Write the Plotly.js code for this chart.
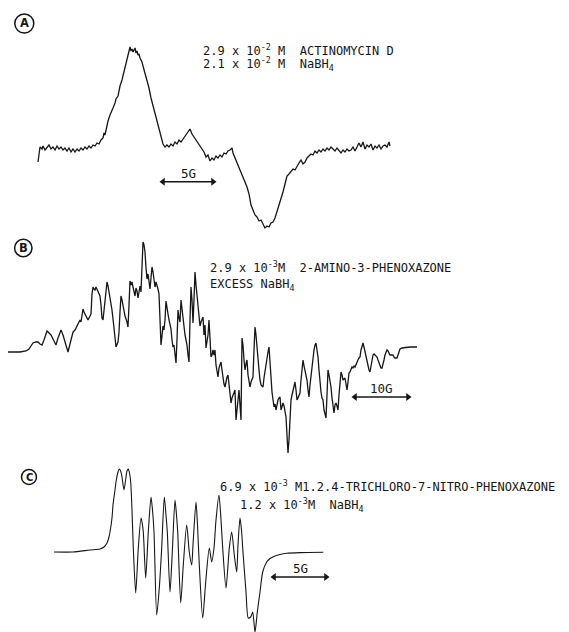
<!DOCTYPE html>
<html>
<head>
<meta charset="utf-8">
<script src="https://cdn.plot.ly/plotly-3.0.1.min.js"></script>
<style>html,body{margin:0;padding:0;background:#fff;}#chart{width:569px;height:632px;}</style>
</head>
<body>
<div id="chart"></div>
<script>
// Spectrum A: [field position, signal relative to baseline]
const spectrumA = [
[38,-12],[39,0],[40,3],[42,1],[43,4],[45,0],[47,2],[49,5],[51,1],[53,3],[55,0],[57,4],[59,1],[61,3],[63,0],[65,2],[67,-1],[69,2],[71,-2],[73,1],[75,-2],[77,1],[79,-1],[81,2],[83,0],[85,3],[87,1],[89,4],[91,2],[93,5],[95,4],[97,7],[99,6],[101,10],[103,12],[104,17],[105,15],[107,26],[108,29],[110,35],[111,38],[113,42],[115,47],[116,51],[118,54],[119,59],[120,64],[122,70],[123,74],[124,80],[126,86],[127,91],[128,96],[129,100],[130,103],[131,99],[132,101],[133,98],[134,100],[135,102],[136,97],[137,99],[138,95],[139,96],[140,92],[142,88],[143,84],[145,77],[147,69],[149,62],[151,52],[153,44],[155,36],[157,28],[159,19],[161,11],[163,6],[165,3],[167,5],[169,3],[171,6],[173,4],[175,8],[177,6],[179,10],[181,8],[183,11],[185,13],[187,16],[189,19],[190,21],[192,16],[194,13],[196,10],[198,7],[200,4],[202,1],[204,-2],[206,-7],[208,-5],[210,-11],[212,-8],[214,-10],[216,-6],[218,-8],[220,-5],[222,-7],[224,-3],[226,-4],[228,-1],[230,0],[232,2],[233,-3],[235,-8],[237,-11],[239,-16],[241,-21],[243,-26],[245,-31],[247,-37],[249,-44],[251,-55],[253,-60],[255,-65],[257,-67],[259,-71],[261,-70],[263,-74],[265,-78],[267,-76],[269,-77],[271,-73],[273,-72],[275,-68],[277,-62],[279,-55],[281,-48],[283,-42],[285,-34],[287,-26],[289,-24],[291,-22],[293,-19],[295,-20],[297,-16],[299,-13],[301,-10],[303,-14],[305,-12],[307,-8],[309,-6],[311,-4],[313,-5],[315,-1],[317,-3],[319,0],[321,-2],[323,1],[325,-1],[327,2],[329,0],[331,3],[333,1],[335,-1],[337,2],[339,0],[341,-3],[343,0],[345,-2],[347,1],[349,-1],[351,0],[353,3],[355,-1],[357,4],[359,7],[361,3],[363,8],[365,1],[367,5],[369,3],[371,6],[373,0],[375,4],[377,2],[379,5],[381,1],[383,4],[385,5],[387,3],[389,8],[390,4]
];
// Spectrum B
const spectrumB = [
[8,-2],[14,-2],[20,-2],[26,-1],[29,1],[31,4],[33,7],[36,8],[38,8],[40,6],[42,5],[44,10],[46,17],[47,19],[49,17],[51,15],[53,11],[55,7],[56,5],[58,12],[60,19],[61,20],[63,15],[65,7],[67,1],[68,-2],[70,6],[72,14],[73,18],[75,20],[77,24],[78,27],[80,30],[81,28],[83,41],[84,38],[86,34],[88,30],[89,32],[91,36],[92,56],[93,63],[94,61],[95,60],[96,63],[97,61],[98,58],[100,54],[101,45],[102,32],[103,30],[105,50],[107,68],[108,64],[110,52],[112,40],[114,22],[116,3],[118,8],[119,18],[120,38],[121,54],[122,50],[124,40],[125,34],[127,28],[128,23],[129,45],[130,69],[131,65],[132,68],[133,63],[134,58],[135,54],[136,62],[137,59],[138,52],[139,58],[140,64],[141,58],[142,80],[143,108],[144,105],[145,98],[146,82],[147,71],[148,76],[149,68],[150,61],[151,72],[152,83],[153,78],[154,67],[155,63],[156,68],[157,65],[158,61],[159,56],[160,32],[161,5],[162,14],[163,24],[164,20],[165,30],[166,49],[167,44],[168,36],[169,30],[170,25],[171,21],[172,10],[173,3],[174,5],[175,-5],[176,-13],[177,10],[178,40],[179,32],[180,28],[181,50],[182,40],[183,30],[184,22],[185,15],[186,10],[187,5],[188,-5],[189,-12],[190,30],[191,63],[192,50],[193,27],[194,50],[195,78],[196,65],[197,55],[198,45],[199,38],[200,24],[201,28],[202,32],[203,33],[204,15],[205,25],[206,2],[207,10],[208,15],[209,30],[210,10],[211,-7],[212,-5],[213,0],[214,-5],[215,0],[216,-15],[217,-22],[218,-27],[219,-18],[220,-15],[221,-12],[222,-20],[223,-30],[224,-34],[225,-37],[226,-30],[227,-27],[228,-25],[229,-35],[230,-45],[231,-53],[232,-48],[233,-45],[235,-40],[236,-70],[237,-58],[238,-45],[239,-40],[240,-55],[241,-70],[242,12],[243,5],[244,-10],[245,-20],[246,-14],[247,-10],[248,-25],[249,-34],[250,-37],[251,-32],[252,-28],[253,-27],[254,0],[255,23],[256,15],[257,0],[258,-7],[259,-20],[260,-30],[261,-35],[262,-36],[263,-37],[264,-28],[265,-20],[266,-17],[267,-10],[268,-2],[269,3],[270,-15],[271,-27],[272,-42],[274,-57],[275,-54],[276,-60],[277,-52],[278,-50],[279,-48],[280,-47],[281,-60],[282,-55],[283,-53],[284,-56],[285,-62],[286,-67],[287,-85],[288,-103],[289,-90],[290,-65],[291,-50],[292,-45],[293,-40],[294,-35],[295,-32],[296,-40],[297,-50],[298,-48],[299,-45],[300,-43],[301,-30],[302,-20],[303,-10],[304,-16],[305,-20],[306,-24],[307,-30],[308,-40],[309,-47],[310,-35],[311,-25],[312,-17],[313,-8],[314,0],[315,5],[316,7],[317,0],[318,-7],[319,-20],[320,-33],[321,-42],[322,-48],[323,-50],[324,-60],[325,-65],[326,-68],[327,-45],[328,-20],[329,-25],[330,-30],[331,-37],[332,-48],[333,-57],[334,-63],[335,-55],[336,-53],[337,-56],[338,-60],[339,-45],[340,-33],[341,-22],[342,-25],[343,-30],[345,-28],[346,-35],[347,-40],[348,-32],[349,-23],[350,-22],[351,-20],[352,-17],[353,-18],[354,-16],[355,-17],[356,-14],[357,-13],[358,-10],[359,-8],[360,-7],[361,0],[362,4],[363,7],[364,3],[365,-2],[366,-7],[367,-12],[368,-16],[369,-20],[370,-22],[371,-16],[372,-10],[373,-5],[374,-4],[375,-5],[376,-6],[377,-7],[378,-10],[379,-13],[380,-16],[381,-18],[382,-18],[383,-15],[384,-10],[385,-5],[386,-2],[387,0],[388,-1],[389,-3],[390,-5],[391,-5],[393,-5],[394,-7],[395,-8],[397,-8],[398,-4],[399,-1],[400,1],[402,2],[405,2.5],[410,3],[417,3]
];
// Spectrum C
const spectrumC = [
[54,0],[73,0],[90,2],[100,3],[104,5],[107,9],[109,15],[110,20],[112,34],[113,47],[115,62],[116,70],[118,80],[119.3,83],[121,80],[122,75],[124,62],[126,75],[127,81],[128.3,83],[129.5,79],[130.7,70],[132,42],[133.3,4],[135.7,-41],[138.3,4],[141,34],[142,30],[143.3,20],[145.7,-26],[148.3,20],[151,55],[152.5,42],[154,20],[156.7,-63],[159.3,-36],[161.7,4],[164.3,55],[166,37],[167.3,20],[170,-40],[172.3,0],[175,52],[176.5,37],[177.7,20],[180.7,-51],[183.3,-13],[186.7,27],[189.3,0],[191.7,-13],[193,7],[196,50],[197.5,27],[199.3,-13],[202.7,-66],[205.7,-30],[209.3,4],[211.7,-10],[214,4],[216,32],[219,57],[221,32],[222.7,4],[226,-36],[229.3,4],[231.7,20],[234.3,-3],[236.7,-20],[238,7],[240,34],[241.5,22],[242.7,4],[246,-40],[248.3,-66],[250.7,-65],[252.7,-60],[255,-80],[257.3,-60],[260,-40],[262.7,-20],[266.7,-10],[270,-6.5],[273.3,-4.7],[280,-2.5],[286.7,-1.3],[300,-0.6],[323.3,-0.3]
];
const panelLetters = ['A','B','C'];
const labelsA = ['2.9 x 10<sup>-2</sup> M  ACTINOMYCIN D', '2.1 x 10<sup>-2</sup> M  NaBH<sub>4</sub>'];
const labelsB = ['2.9 x 10<sup>-3</sup>M  2-AMINO-3-PHENOXAZONE', 'EXCESS NaBH<sub>4</sub>'];
const labelsC = ['6.9 x 10<sup>-3</sup> M1.2.4-TRICHLORO-7-NITRO-PHENOXAZONE', '1.2 x 10<sup>-3</sup>M  NaBH<sub>4</sub>'];
// scale bars: field span and vertical level (signal units of own panel)
const scaleLabels = ['5G','10G','5G'];
const scaleStart = [161, 353, 272];
const scaleEnd = [215, 410, 328];
const scaleLevel = [-31.7, -47, -25];

const ink = '#161616';
function trace(spec, yaxis, width, shape){
  return {x: spec.map(p=>p[0]), y: spec.map(p=>p[1]), yaxis: yaxis, type:'scatter', mode:'lines',
    line:{color:ink, width:width, shape:shape||'linear', smoothing:0.7}, hoverinfo:'skip', showlegend:false};
}
const axesIds = ['y','y2','y3'];
const data = [
  trace(spectrumA,'y',1.3),
  trace(spectrumB,'y2',1.3),
  trace(spectrumC,'y3',1.1,'spline')
];
scaleLabels.forEach((lab,i)=>{
  data.push({x:[scaleStart[i]+2, scaleEnd[i]-2], y:[scaleLevel[i], scaleLevel[i]], yaxis:axesIds[i], type:'scatter', mode:'lines+markers',
    line:{color:ink, width:1.6}, marker:{symbol:['triangle-left','triangle-right'], size:7, color:ink}, hoverinfo:'skip', showlegend:false});
});
const W=569, H=632;
const px = v=>v/W, py = v=>1-v/H;
const font = {family:'DejaVu Sans Mono, Liberation Mono, monospace', size:12, color:ink};
const ann = [];
function txt(t,x,y,size){ ann.push({text:t, xref:'paper', yref:'paper', x:px(x), y:py(y), xanchor:'left', yanchor:'middle', showarrow:false, font:Object.assign({},font,size?{size:size}:{})}); }
txt(labelsA[0],201,50); txt(labelsA[1],201,64);
txt(labelsB[0],208,267); txt(labelsB[1],208,285);
txt(labelsC[0],218,486); txt(labelsC[1],238,505);
const labY = [173, 389, 568];
scaleLabels.forEach((lab,i)=>{
  ann.push({text:lab, xref:'x', x:(scaleStart[i]+scaleEnd[i])/2, yref:'paper', y:py(labY[i]), xanchor:'center', yanchor:'middle', showarrow:false, font:Object.assign({},font,{size:12.5})});
});
const circ = [[24.3,23.5,9.5],[23.3,248,8.7],[29,477,7.5]];
const shapes = circ.map(c=>({type:'circle', xref:'paper', yref:'paper', x0:px(c[0]-c[2]), x1:px(c[0]+c[2]), y0:py(c[1]+c[2]), y1:py(c[1]-c[2]), line:{color:ink, width:1.5}}));
circ.forEach((c,i)=>ann.push({text:'<b>'+panelLetters[i]+'</b>', xref:'paper', yref:'paper', x:px(c[0]), y:py(c[1]), xanchor:'center', yanchor:'middle', showarrow:false, font:{family:'DejaVu Sans, sans-serif', color:ink, size:i==2?10:11.5}}));

const hidden = {visible:false, showgrid:false, zeroline:false, fixedrange:true};
const layout = {
  width:W, height:H, margin:{l:0,r:0,t:0,b:0}, paper_bgcolor:'#fff', plot_bgcolor:'#fff',
  xaxis:Object.assign({range:[0,W]},hidden),
  yaxis:Object.assign({range:[-482,150], domain:[0,1]},hidden),
  yaxis2:Object.assign({range:[-282,350], overlaying:'y'},hidden),
  yaxis3:Object.assign({range:[-80,552], overlaying:'y'},hidden),
  annotations:ann, shapes:shapes, showlegend:false
};
Plotly.newPlot('chart', data, layout, {staticPlot:true, displayModeBar:false});
</script>
</body>
</html>
